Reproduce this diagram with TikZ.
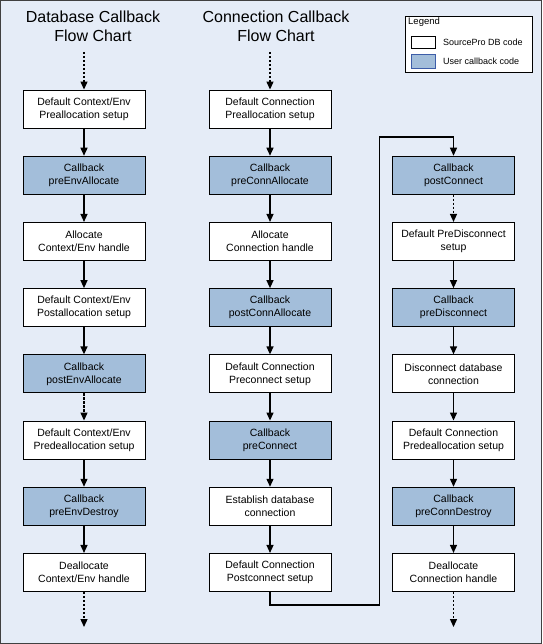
\documentclass[tikz,border=0pt]{standalone}
\usepackage{fontspec}
\setmainfont{Liberation Sans}
\usetikzlibrary{arrows.meta}
\definecolor{bgblue}{HTML}{E5ECF7}
\definecolor{cbblue}{HTML}{A3BEDA}
\definecolor{lgborder}{HTML}{3D5DA8}
\tikzset{
  plainbox/.style={draw=black, line width=0.9pt, fill=white, minimum width=122pt, minimum height=38pt, inner sep=0pt, align=center, font=\fontsize{10.5}{13}\selectfont},
  cbbox/.style={plainbox, fill=cbblue},
  flow/.style={draw=black, line width=1.3pt, -{Triangle[length=8pt,width=7pt]}},
  dflow/.style={flow, dash pattern=on 2.5pt off 1.5pt},
  title/.style={align=center, font=\fontsize{16}{19}\selectfont},
  lgtext/.style={anchor=west, inner sep=0pt, font=\fontsize{9}{11}\selectfont}
}
\begin{document}
\begin{tikzpicture}[x=1pt,y=-1pt]
\useasboundingbox (0,0) rectangle (542,644);
\draw[fill=bgblue, draw=black!75, line width=1pt] (0.5,0.5) rectangle (541.5,643.5);

% titles
\node[title] (t1) at (93,26) {Database Callback\\Flow Chart};
\node[title] (t2) at (276,26) {Connection Callback\\Flow Chart};

% legend
\node[draw=black, line width=0.8pt, fill=white, minimum width=127pt, minimum height=56pt, inner sep=0pt] (legend) at (468.5,44) {};
\node[lgtext, font=\fontsize{9.5}{11}\selectfont] (lgtitle) at (408,22) {Legend};
\node[draw=black, line width=0.8pt, fill=white, minimum width=24pt, minimum height=12pt, inner sep=0pt] (lgw) at (423,42) {};
\node[draw=lgborder, line width=0.8pt, fill=cbblue, minimum width=24pt, minimum height=14pt, inner sep=0pt] (lgb) at (423,61) {};
\node[lgtext] (lgwt) at (443,42) {SourcePro DB code};
\node[lgtext] (lgbt) at (443,61) {User callback code};

% column 1
\node[plainbox] (c1r1) at (84,109)   {Default Context/Env\\Preallocation setup};
\node[cbbox]    (c1r2) at (84,175.2) {Callback\\preEnvAllocate};
\node[plainbox] (c1r3) at (84,241.4) {Allocate\\Context/Env handle};
\node[plainbox] (c1r4) at (84,307.6) {Default Context/Env\\Postallocation setup};
\node[cbbox]    (c1r5) at (84,373.8) {Callback\\postEnvAllocate};
\node[plainbox] (c1r6) at (84,440)   {Default Context/Env\\Predeallocation setup};
\node[cbbox]    (c1r7) at (84,506.2) {Callback\\preEnvDestroy};
\node[plainbox] (c1r8) at (84,572.4) {Deallocate\\Context/Env handle};
\coordinate (c1in) at (84,52);
\coordinate (c1out) at (84,627);

% column 2
\node[plainbox] (c2r1) at (270,109)   {Default Connection\\Preallocation setup};
\node[cbbox]    (c2r2) at (270,175.2) {Callback\\preConnAllocate};
\node[plainbox] (c2r3) at (270,241.4) {Allocate\\Connection handle};
\node[cbbox]    (c2r4) at (270,307.6) {Callback\\postConnAllocate};
\node[plainbox] (c2r5) at (270,373.8) {Default Connection\\Preconnect setup};
\node[cbbox]    (c2r6) at (270,440)   {Callback\\preConnect};
\node[plainbox] (c2r7) at (270,506.2) {Establish database\\connection};
\node[plainbox] (c2r8) at (270,572.4) {Default Connection\\Postconnect setup};
\coordinate (c2in) at (270,52);

% column 3
\node[cbbox]    (c3r2) at (453.5,175.2) {Callback\\postConnect};
\node[plainbox] (c3r3) at (453.5,241.4) {Default PreDisconnect\\setup};
\node[cbbox]    (c3r4) at (453.5,307.6) {Callback\\preDisconnect};
\node[plainbox] (c3r5) at (453.5,373.8) {Disconnect database\\connection};
\node[plainbox] (c3r6) at (453.5,440)   {Default Connection\\Predeallocation setup};
\node[cbbox]    (c3r7) at (453.5,506.2) {Callback\\preConnDestroy};
\node[plainbox] (c3r8) at (453.5,572.4) {Deallocate\\Connection handle};
\coordinate (c3out) at (453.5,627);

% connectors column 1
\draw[dflow] (c1in) -- (c1r1);
\draw[flow] (c1r1) -- (c1r2);
\draw[flow] (c1r2) -- (c1r3);
\draw[flow] (c1r3) -- (c1r4);
\draw[flow] (c1r4) -- (c1r5);
\draw[dflow] (c1r5) -- (c1r6);
\draw[flow] (c1r6) -- (c1r7);
\draw[flow] (c1r7) -- (c1r8);
\draw[dflow] (c1r8) -- (c1out);

% connectors column 2
\draw[dflow] (c2in) -- (c2r1);
\draw[flow] (c2r1) -- (c2r2);
\draw[flow] (c2r2) -- (c2r3);
\draw[flow] (c2r3) -- (c2r4);
\draw[flow] (c2r4) -- (c2r5);
\draw[flow] (c2r5) -- (c2r6);
\draw[flow] (c2r6) -- (c2r7);
\draw[flow] (c2r7) -- (c2r8);

% cross connector
\draw[flow] (c2r8.south) -- ++(0,13) -| (379.5,137) -| (c3r2.north);

% connectors column 3
\draw[dflow] (c3r2) -- (c3r3);
\draw[flow] (c3r3) -- (c3r4);
\draw[flow] (c3r4) -- (c3r5);
\draw[flow] (c3r5) -- (c3r6);
\draw[flow] (c3r6) -- (c3r7);
\draw[flow] (c3r7) -- (c3r8);
\draw[dflow] (c3r8) -- (c3out);
\end{tikzpicture}
\end{document}
